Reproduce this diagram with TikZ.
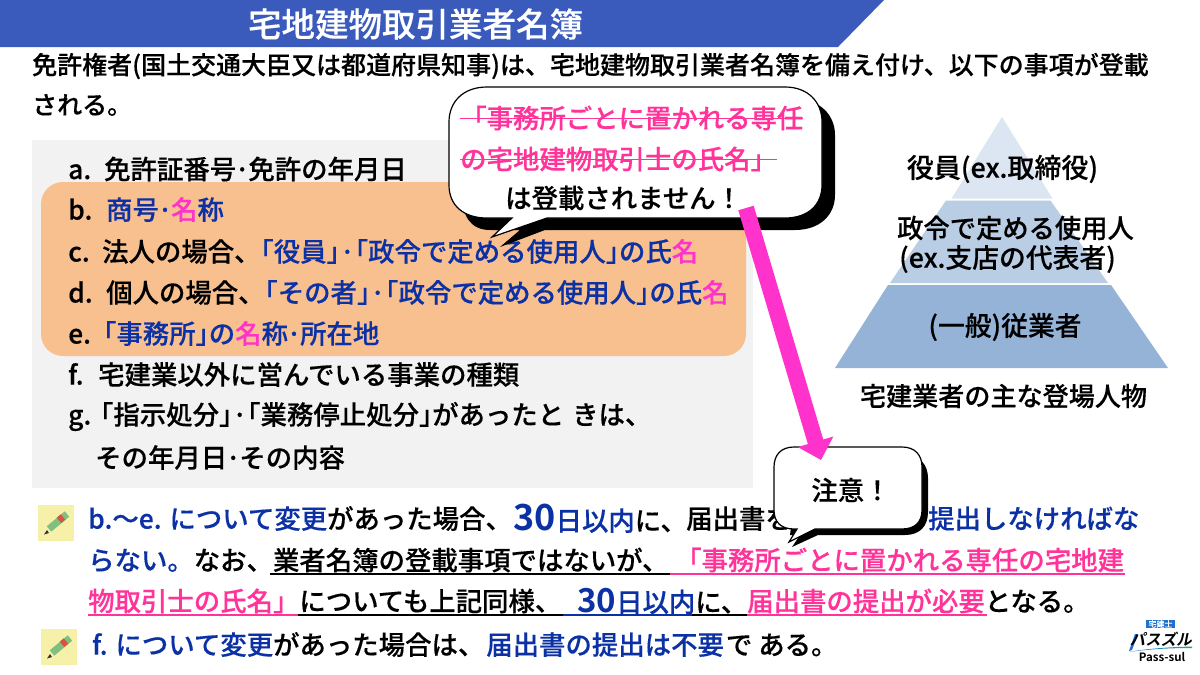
\documentclass[tikz,border=0pt]{standalone}
\usepackage{fontspec}
\setmainfont{Noto Sans CJK JP Medium}[FakeBold=0.25]
\newfontfamily\boldcjk{Noto Sans CJK JP Bold}
\usetikzlibrary{arrows.meta}
\definecolor{bandblue}{HTML}{3A5BBB}
\definecolor{tblue}{HTML}{0B31A5}
\definecolor{tpink}{HTML}{FF3399}
\definecolor{apink}{HTML}{FF33CC}
\definecolor{grayboxc}{HTML}{F2F2F2}
\definecolor{orangec}{HTML}{F8BF8F}
\definecolor{pyra}{HTML}{DCE6F2}
\definecolor{pyrb}{HTML}{B9CDE5}
\definecolor{pyrc}{HTML}{95B3D7}
\definecolor{peny}{HTML}{F7F0A8}
\definecolor{peng}{HTML}{7FC080}
\definecolor{penr}{HTML}{D9533F}
\definecolor{logob}{HTML}{1F6FD0}
\definecolor{logog}{HTML}{1FA88C}
\newcommand{\fsz}[1]{\fontsize{#1}{#1}\selectfont}
\newcommand{\BL}[1]{\textcolor{tblue}{#1}}
\newcommand{\PK}[1]{\textcolor{tpink}{#1}}
\newcommand{\MG}[1]{\textcolor{apink}{#1}}
\newcommand{\BG}[2]{{\fsz{#1}\boldcjk #2}}
\newcommand{\LB}{\makebox[0.5em][r]{「}}
\newcommand{\RB}{\makebox[0.5em][l]{」}}
\newcommand{\DT}{\kern-1.5pt·\kern-1.5pt}
\newcommand{\LBL}[2]{\makebox[#1pt][l]{#2}}
\tikzset{
  x=1pt,y=-1pt,
  txt/.style={anchor=west,inner sep=0pt,font=\fsz{26.4},text=black},
  ctxt/.style={anchor=center,inner sep=0pt,font=\fsz{26.4},text=black,align=center},
  ul/.style={line width=1.4pt},
  pen/.pic={
    \fill[peny] (-18,-18) rectangle (18,18);
    \draw[peng,line width=7pt] (-7,6) -- (11,-9);
    \draw[penr,line width=7pt] (3,-2.7) -- (7,-6);
    \fill[black!80] (-9,7) -- (-7,10) -- (-12,11.5) -- cycle;
  },
}
\begin{document}
\begin{tikzpicture}
\useasboundingbox (0,0) rectangle (1200,675);
\fill[white] (0,0) rectangle (1200,675);
% title band
\fill[bandblue] (0,0) -- (884,0) -- (838,47) -- (0,47) -- cycle;
\node[ctxt,text=white,font=\fsz{33.5}] (title) at (415.5,24) {宅地建物取引業者名簿};
% lead
\node[txt,font=\fsz{25}] (lead1) at (32,66) {免許権者(国土交通大臣又は都道府県知事)は、宅地建物取引業者名簿を備え付け、以下の事項が登載};
\node[txt,font=\fsz{25}] (lead2) at (32,105) {される。};
% boxes
\fill[grayboxc] (32,140) rectangle (753,488);
\fill[orangec,rounded corners=22pt] (41,182) rectangle (746,356);
% list
\node[txt] (la) at (68,169) {\LBL{36}{a.}免許証番号\DT 免許の年月日};
\node[txt] (lb) at (68,209.5) {\LBL{38}{b.}\BL{商号\DT}\MG{名}\BL{称}};
\node[txt] (lc) at (68,251.5) {\LBL{34}{c.}法人の場合、\BL{\LB 役員\RB·\LB 政令で定める使用人\RB の氏}\MG{名}};
\node[txt] (ld) at (68,292.5) {\LBL{38}{d.}個人の場合、\BL{\LB その者\RB·\LB 政令で定める使用人\RB の氏}\MG{名}};
\node[txt] (le) at (68,333.5) {\LBL{35}{e.}\BL{\LB 事務所\RB の}\MG{名}\BL{称\DT 所在地}};
\node[txt] (lf) at (68,374.5) {\LBL{30}{f.}宅建業以外に営んでいる事業の種類};
\node[txt] (lg) at (68,416.5) {\LBL{32}{g.}\LB 指示処分\RB·\LB 業務停止処分\RB があったと\kern8pt きは、};
\node[txt] (lh) at (95,457.5) {その年月日\DT その内容};
% pyramid
\fill[pyra] (1002,117) -- (1052.5,198.5) -- (951.5,198.5) -- cycle;
\fill[pyrb] (1050.5,200.5) -- (1108,283) -- (890,283) -- (946,200.5) -- cycle;
\fill[pyrc] (1111,285) -- (1168,368) -- (835,368) -- (888,285) -- cycle;
\node[ctxt,font=\fsz{27}] (p1) at (1002.5,169) {役員(ex.取締役)};
\node[ctxt,font=\fsz{26.3}] (p2) at (1015.5,228) {政令で定める使用人};
\node[ctxt,anchor=west,font=\fsz{26.8}] (p3) at (899,259) {(ex.支店の代表者)};
\node[ctxt,font=\fsz{26.8}] (p4) at (1005,327) {(一般)従業者};
\node[ctxt,font=\fsz{26.1}] (p5) at (1003.5,396) {宅建業者の主な登場人物};
% notes
\pic at (56,523) {pen};
\pic at (59,647) {pen};
\node[txt] (n1a) at (88,518.5) {\BL{b.～e. について変更}があった場合、};
\node[txt] (n1c) at (513,518.5) {\BL{\BG{36}{30}日以内}に、};
\node[txt] (n1d) at (686,518.5) {届出書を};
\node[txt] (n1b) at (928,518.5) {\BL{提出しなければな}};
\node[txt] (n2a) at (88,560) {\BL{らない。}なお、業者名簿の登載事項ではないが、};
\node[txt] (n2b) at (675,560) {\PK{「事務所ごとに置かれる専任の宅地建}};
\node[txt] (n3a) at (88,601) {\PK{物取引士の氏名」}についても上記同様、};
\node[txt] (n3b) at (577,601) {\BL{\BG{33}{30}日以内}に、};
\node[txt] (n3c) at (747,601) {\PK{届出書の提出が必要}となる。};
\node[txt] (n4) at (92,644.5) {\BL{f. について変更}があった場合は、\kern2pt\BL{届出書の提出は不要}\kern2pt で\kern6pt ある。};
\draw[ul,black] (270,574) -- (670,574);
\draw[ul,tpink] (670,574) -- (1125,574);
\draw[ul,tpink] (88,615) -- (298,615);
\draw[ul,black] (298,615) -- (563,615);
\draw[ul,tblue] (563,615) -- (692,615);
\draw[ul,black] (692,615) -- (747,615);
\draw[ul,tpink] (747,615) -- (987,615);
% big callout
\fill[black] (462,99) -- (795,99) .. controls (820,99) and (835,115) .. (835,135) -- (835,195) .. controls (835,215) and (820,230) .. (795,230) -- (545,230) -- (500,247) -- (520,230) -- (490,230) .. controls (470,230) and (462,215) .. (462,195) -- cycle;
\filldraw[fill=white,draw=black,line width=1.2pt]
  (487,87) -- (785,87) .. controls (808,87) and (822,102) .. (822,122)
  -- (822,185) .. controls (822,205) and (808,218) .. (785,218)
  -- (547,218) -- (492,237) -- (512,218) -- (487,218)
  .. controls (463,218) and (449,205) .. (449,185)
  -- (449,122) .. controls (449,102) and (463,87) .. (487,87) -- cycle;
\node[txt,text=tpink] (c1) at (460,118) {「事務所ごとに置かれる専任};
\node[txt,text=tpink] (c2) at (460,159) {の宅地建物取引士の氏名」};
\node[txt] (c3) at (505,198) {は登載されません！};
\draw[tpink,line width=1pt] (460,118) -- (803,118);
\draw[tpink,line width=1pt] (460,159) -- (777,159);
% small callout
\fill[black] (800,455) -- (905,455) .. controls (920,455) and (928,465) .. (928,478) -- (928,512) .. controls (928,526) and (920,535) .. (905,535) -- (818,535) -- (792,547) -- (800,535) -- (790,535) -- cycle;
\filldraw[fill=white,draw=black,line width=1.2pt]
  (794,447) -- (902,447) .. controls (915,447) and (922,455) .. (922,467)
  -- (922,510) .. controls (922,522) and (915,529) .. (902,529)
  -- (815,529) -- (789,542) -- (797,529) -- (794,529)
  .. controls (781,529) and (774,522) .. (774,510)
  -- (774,467) .. controls (774,455) and (781,447) .. (794,447) -- cycle;
\node[ctxt] (c4) at (851,490) {注意！};
% arrow
\coordinate (arrA) at (746,208);
\coordinate (arrB) at (821,460);
\draw[apink,line width=16pt,-{Triangle[length=19pt,width=36pt]}] (arrA) -- (arrB);
% logo
\fill[logob] (1146,619.5) rectangle (1175,628);
\node[ctxt,text=white,font=\fsz{8}] (lg1) at (1160.5,624) {宅建士};
\fill[logob] (1135,634) -- (1138,634) -- (1132,650) -- (1129,651) -- cycle;
\node[ctxt,font=\fsz{15.5}\boldcjk,xslant=0.2,transform shape] (lg2) at (1162,639.5) {パスズル};
\shade[left color=logob,right color=logog] (1129,652) .. controls (1150,648) and (1175,647) .. (1192,646.5) -- (1192,648) .. controls (1170,648) and (1150,649) .. (1129,652) -- cycle;
\node[ctxt,font=\fsz{11.5}\boldcjk] (lg3) at (1162,657) {Pass-sul};
\end{tikzpicture}
\end{document}
